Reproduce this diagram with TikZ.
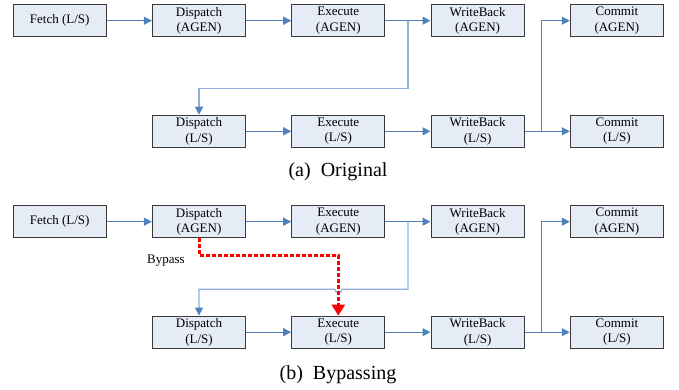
\documentclass[tikz,border=0pt]{standalone}
\usepackage{fontspec}
\setmainfont{Liberation Serif}
\usetikzlibrary{arrows.meta}
\definecolor{boxfill}{HTML}{E6ECF6}
\definecolor{boxline}{HTML}{3A3A3A}
\definecolor{arrblue}{HTML}{4F81BD}
\definecolor{loopblue}{HTML}{8FB0DC}
\begin{document}
\begin{tikzpicture}[x=1pt,y=-1pt,
  stage/.style={draw=boxline,line width=1.2pt,fill=boxfill,minimum width=93pt,minimum height=32pt,
    inner sep=0pt,align=center,font=\fontsize{13}{15.5}\selectfont},
  flow/.style={draw=arrblue,line width=1.1pt,-{Triangle[length=8pt,width=8pt]}},
  loopflowarr/.style={draw=loopblue,line width=1.3pt,-{Triangle[length=8pt,width=8pt,color=arrblue,fill=arrblue]}},
  bypass/.style={draw=red,line width=3pt,dash pattern=on 3.5pt off 2.5pt,-{Triangle[length=11pt,width=13pt,color=red,fill=red]}},
  caption/.style={font=\fontsize{20}{24}\selectfont},
  lbl/.style={font=\fontsize{13}{15.5}\selectfont}]
\useasboundingbox (0,0) rectangle (679,390);
% ---------- (a) ----------
\node[stage] (fa)  at (59.7,20.7) {Fetch (L/S)};
\node[stage] (da)  at (199,20.7) {Dispatch\\(AGEN)};
\node[stage] (ea)  at (338.3,20.7) {Execute\\(AGEN)};
\node[stage] (wa)  at (477.6,20.7) {WriteBack\\(AGEN)};
\node[stage] (ca)  at (616.9,20.7) {Commit\\(AGEN)};
\node[stage] (dla) at (199,131.3) {Dispatch\\(L/S)};
\node[stage] (ela) at (338.3,131.3) {Execute\\(L/S)};
\node[stage] (wla) at (477.6,131.3) {WriteBack\\(L/S)};
\node[stage] (cla) at (616.9,131.3) {Commit\\(L/S)};
\coordinate (ja) at (408,20.7);
\coordinate (ka) at (541.3,131.3);
\draw[flow] (fa) -- (da);
\draw[flow] (da) -- (ea);
\draw[flow] (ea) -- (wa);
\draw[loopflowarr] (ja) -- (408,88.7) -- (199,88.7) -- (dla.north);
\draw[flow] (dla) -- (ela);
\draw[flow] (ela) -- (wla);
\draw[flow] (wla) -- (cla);
\draw[flow] (ka) |- (ca.west);
\node[caption] (capa) at (338,172) {(a)\ \ Original};
% ---------- (b) ----------
\node[stage] (fb)  at (59.7,221.7) {Fetch (L/S)};
\node[stage] (db)  at (199,221.7) {Dispatch\\(AGEN)};
\node[stage] (eb)  at (338.3,221.7) {Execute\\(AGEN)};
\node[stage] (wb)  at (477.6,221.7) {WriteBack\\(AGEN)};
\node[stage] (cb)  at (616.9,221.7) {Commit\\(AGEN)};
\node[stage] (dlb) at (199,332.2) {Dispatch\\(L/S)};
\node[stage] (elb) at (338.3,332.2) {Execute\\(L/S)};
\node[stage] (wlb) at (477.6,332.2) {WriteBack\\(L/S)};
\node[stage] (clb) at (616.9,332.2) {Commit\\(L/S)};
\coordinate (jb) at (408,221.7);
\coordinate (kb) at (541.3,332.2);
\draw[flow] (fb) -- (db);
\draw[flow] (db) -- (eb);
\draw[flow] (eb) -- (wb);
\draw[loopflowarr] (jb) -- (408,289.3) -- (341.8,289.3) arc[start angle=0,end angle=180,radius=3.5] -- (199,289.3) -- (dlb.north);
\draw[flow] (dlb) -- (elb);
\draw[flow] (elb) -- (wlb);
\draw[flow] (wlb) -- (clb);
\draw[flow] (kb) |- (cb.west);
\draw[bypass] (db.south) -- (199,255) -- (338.3,255) -- (elb.north);
\node[lbl] (bp) at (166,261) {Bypass};
\node[caption] (capb) at (338,375) {(b)\ \ Bypassing};
\end{tikzpicture}
\end{document}
